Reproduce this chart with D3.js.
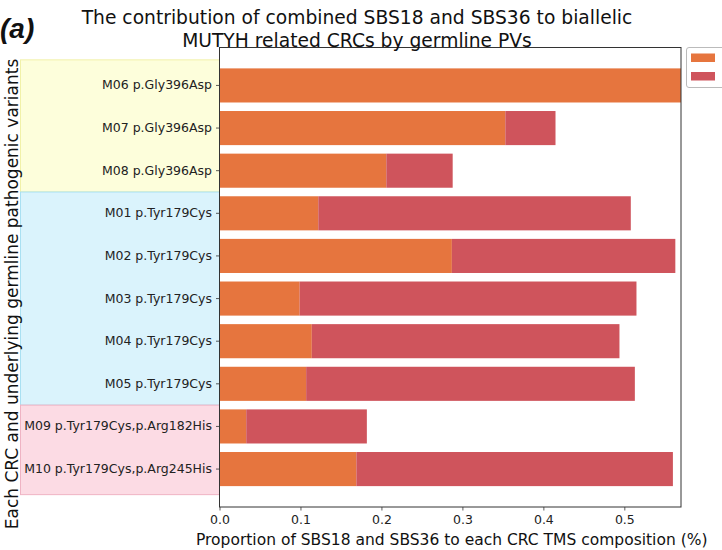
<!doctype html>
<html>
  <head>
    <style>
      body { margin: 0; background: white; }
      svg { font-family: 'DejaVu Sans', sans-serif; display: block; }
    </style>
    <script src="https://d3js.org/d3.v7.min.js"></script>
  </head>
  <body>
    <svg id="chart" width="722" height="550"></svg>
    <script>
      // bars, top to bottom
      const categories = [
        "M06 p.Gly396Asp", "M07 p.Gly396Asp", "M08 p.Gly396Asp",
        "M01 p.Tyr179Cys", "M02 p.Tyr179Cys", "M03 p.Tyr179Cys",
        "M04 p.Tyr179Cys", "M05 p.Tyr179Cys",
        "M09 p.Tyr179Cys,p.Arg182His", "M10 p.Tyr179Cys,p.Arg245His"
      ];
      const sbs18 = [0.600, 0.353, 0.206, 0.122, 0.287, 0.099, 0.114, 0.107, 0.033, 0.169];
      const sbs36 = [0.000, 0.062, 0.082, 0.386, 0.276, 0.416, 0.380, 0.406, 0.149, 0.391];
      const xTicks = [0.0, 0.1, 0.2, 0.3, 0.4, 0.5];
      const xMax = 0.570;

      // germline PV groups (first and last category index)
      const groupFirst = [0, 3, 8];
      const groupLast = [2, 7, 9];

      const groupFill = ["#fdfedb", "#daf3fc", "#fcdbe4"];
      const groupStroke = ["#f1f1a8", "#a9e0f2", "#efb3c3"];
      const orange = "#e6753e";
      const red = "#cf545c";

      const svg = d3.select("#chart");
      const pLeft = 219.5, pRight = 681, pTop = 47.5, pBottom = 507;

      const x = d3.scaleLinear().domain([0, xMax]).range([pLeft, pRight]);
      const y = d3.scaleBand().domain(categories).range([pTop, pBottom])
        .paddingInner(0.2).paddingOuter(0.49);
      const step = y.step(), bw = y.bandwidth();

      // coloured group backgrounds behind the tick labels
      groupFirst.forEach(function(f, i) {
        const l = groupLast[i];
        const y0 = i === 0 ? y(categories[f]) - 0.2 * step : y(categories[f]) - (step - bw) / 2;
        const y1 = i === groupFirst.length - 1 ? y(categories[l]) + bw + 0.2 * step
                                               : y(categories[l]) + bw + (step - bw) / 2;
        svg.append("rect")
          .attr("x", 20.5).attr("y", y0)
          .attr("width", pLeft - 20.5).attr("height", y1 - y0)
          .attr("fill", groupFill[i])
          .attr("stroke", groupStroke[i]).attr("stroke-width", 1);
      });

      svg.append("clipPath").attr("id", "plotclip")
        .append("rect").attr("x", pLeft).attr("y", pTop)
        .attr("width", pRight - pLeft).attr("height", pBottom - pTop);

      const bars = svg.append("g").attr("clip-path", "url(#plotclip)");
      bars.selectAll(".s18").data(categories).enter().append("rect")
        .attr("x", x(0))
        .attr("y", function(d) { return y(d); })
        .attr("width", function(d, i) { return x(sbs18[i]) - x(0); })
        .attr("height", bw)
        .attr("fill", orange);
      bars.selectAll(".s36").data(categories).enter().append("rect")
        .attr("x", function(d, i) { return x(sbs18[i]); })
        .attr("y", function(d) { return y(d); })
        .attr("width", function(d, i) { return x(sbs18[i] + sbs36[i]) - x(sbs18[i]); })
        .attr("height", bw)
        .attr("fill", red);

      // axes
      const xAxis = svg.append("g").attr("transform", "translate(0," + pBottom + ")")
        .call(d3.axisBottom(x).tickValues(xTicks).tickFormat(d3.format(".1f"))
              .tickSize(3.5).tickPadding(5));
      const yAxis = svg.append("g").attr("transform", "translate(" + pLeft + ",0)")
        .call(d3.axisLeft(y).tickSize(3.5).tickPadding(4));
      [xAxis, yAxis].forEach(function(a) {
        a.select(".domain").remove();
        a.selectAll("line").attr("stroke", "#333").attr("stroke-width", 0.8);
        a.selectAll("text").attr("fill", "#222").style("font-size", "12.5px")
          .style("font-family", "'DejaVu Sans', sans-serif");
      });

      // frame
      svg.append("rect")
        .attr("x", pLeft).attr("y", pTop)
        .attr("width", pRight - pLeft).attr("height", pBottom - pTop)
        .attr("fill", "none").attr("stroke", "#333").attr("stroke-width", 1);

      // legend (cut off at the right edge)
      svg.append("rect")
        .attr("x", 686.5).attr("y", 47.5).attr("width", 60).attr("height", 40)
        .attr("rx", 2.5).attr("fill", "white")
        .attr("stroke", "#bbb").attr("stroke-width", 1);
      [orange, red].forEach(function(c, i) {
        svg.append("rect")
          .attr("x", 691).attr("y", 53.5 + i * 18.5)
          .attr("width", 24).attr("height", 8.5)
          .attr("fill", c);
      });

      // titles
      const title = svg.append("text")
        .attr("text-anchor", "middle").attr("fill", "#111")
        .style("font-size", "18.7px");
      title.append("tspan").attr("x", 357).attr("y", 24)
        .text("The contribution of combined SBS18 and SBS36 to biallelic");
      title.append("tspan").attr("x", 357).attr("y", 47)
        .text("MUTYH related CRCs by germline PVs");

      svg.append("text")
        .attr("x", 0).attr("y", 38)
        .attr("fill", "#111")
        .style("font-family", "'Liberation Sans', Arial, sans-serif")
        .style("font-size", "28px").style("font-weight", "bold").style("font-style", "italic")
        .text("(a)");

      svg.append("text")
        .attr("x", 196).attr("y", 545)
        .attr("fill", "#111")
        .style("font-size", "15.5px")
        .text("Proportion of SBS18 and SBS36 to each CRC TMS composition (%)");

      svg.append("text")
        .attr("transform", "translate(18,294) rotate(-90)")
        .attr("text-anchor", "middle").attr("fill", "#111")
        .style("font-size", "17px")
        .text("Each CRC and underlying germline pathogenic variants");
    </script>
  </body>
</html>
